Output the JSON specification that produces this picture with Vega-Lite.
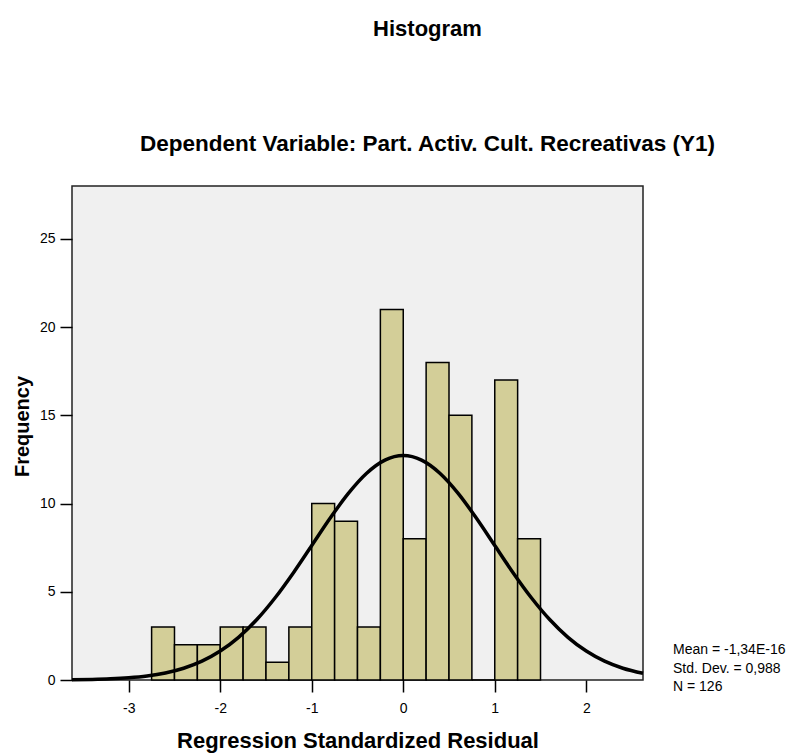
{
  "$schema": "https://vega.github.io/schema/vega-lite/v6.json",
  "autosize": "none",
  "width": 571,
  "height": 494,
  "padding": {"left": 72, "top": 186, "right": 152, "bottom": 73},
  "background": "white",
  "config": {
    "view": {"fill": "#f0f0f0", "stroke": "#222222", "strokeWidth": 1.5},
    "font": "Liberation Sans, Arial, sans-serif"
  },
  "title": {
    "text": "Histogram",
    "subtitle": "Dependent Variable: Part. Activ. Cult. Recreativas (Y1)",
    "anchor": "middle",
    "frame": "group",
    "dx": 70,
    "offset": 30,
    "fontSize": 22,
    "fontWeight": "bold",
    "font": "Liberation Sans, Arial, sans-serif",
    "color": "#000000",
    "subtitleFontSize": 22.5,
    "subtitleFontWeight": "bold",
    "subtitleFont": "Liberation Sans, Arial, sans-serif",
    "subtitleColor": "#000000",
    "subtitlePadding": 92
  },
  "datasets": {
    "bins": [
      {"start": -2.75, "end": -2.5, "count": 3},
      {"start": -2.5, "end": -2.25, "count": 2},
      {"start": -2.25, "end": -2.0, "count": 2},
      {"start": -2.0, "end": -1.75, "count": 3},
      {"start": -1.75, "end": -1.5, "count": 3},
      {"start": -1.5, "end": -1.25, "count": 1},
      {"start": -1.25, "end": -1.0, "count": 3},
      {"start": -1.0, "end": -0.75, "count": 10},
      {"start": -0.75, "end": -0.5, "count": 9},
      {"start": -0.5, "end": -0.25, "count": 3},
      {"start": -0.25, "end": 0.0, "count": 21},
      {"start": 0.0, "end": 0.25, "count": 8},
      {"start": 0.25, "end": 0.5, "count": 18},
      {"start": 0.5, "end": 0.75, "count": 15},
      {"start": 0.75, "end": 1.0, "count": 0},
      {"start": 1.0, "end": 1.25, "count": 17},
      {"start": 1.25, "end": 1.5, "count": 8}
    ],
    "curve": [
      {"x": -3.62, "y": 0.016},
      {"x": -3.4, "y": 0.034},
      {"x": -3.2, "y": 0.067},
      {"x": -3.0, "y": 0.127},
      {"x": -2.8, "y": 0.229},
      {"x": -2.6, "y": 0.399},
      {"x": -2.4, "y": 0.666},
      {"x": -2.2, "y": 1.066},
      {"x": -2.0, "y": 1.64},
      {"x": -1.8, "y": 2.419},
      {"x": -1.6, "y": 3.428},
      {"x": -1.4, "y": 4.662},
      {"x": -1.2, "y": 6.084},
      {"x": -1.0, "y": 7.622},
      {"x": -0.8, "y": 9.165},
      {"x": -0.6, "y": 10.578},
      {"x": -0.4, "y": 11.719},
      {"x": -0.2, "y": 12.462},
      {"x": 0.0, "y": 12.72},
      {"x": 0.2, "y": 12.462},
      {"x": 0.4, "y": 11.719},
      {"x": 0.6, "y": 10.578},
      {"x": 0.8, "y": 9.165},
      {"x": 1.0, "y": 7.622},
      {"x": 1.2, "y": 6.084},
      {"x": 1.4, "y": 4.662},
      {"x": 1.6, "y": 3.428},
      {"x": 1.8, "y": 2.419},
      {"x": 2.0, "y": 1.64},
      {"x": 2.2, "y": 1.066},
      {"x": 2.4, "y": 0.666},
      {"x": 2.62, "y": 0.378}
    ],
    "stats": [
      {"label": "Mean = -1,34E-16\nStd. Dev. = 0,988\nN = 126"}
    ]
  },
  "layer": [
    {
      "data": {"name": "bins"},
      "mark": {"type": "rect", "fill": "#d3ce98", "stroke": "#000000", "strokeWidth": 1.5},
      "encoding": {
        "x": {
          "field": "start",
          "type": "quantitative",
          "scale": {"domain": [-3.62, 2.62], "nice": false, "zero": false},
          "axis": {
            "title": "Regression Standardized Residual",
            "values": [-3, -2, -1, 0, 1, 2],
            "labelExpr": "'' + datum.value",
            "grid": false,
            "domain": false,
            "tickSize": 12,
            "tickWidth": 1.5,
            "tickColor": "#000000",
            "labelFontSize": 14,
            "labelColor": "#000000",
            "labelPadding": 9,
            "titleFontSize": 22,
            "titleFontWeight": "bold",
            "titleColor": "#000000",
            "titleY": 50
          }
        },
        "x2": {"field": "end"},
        "y": {
          "field": "count",
          "type": "quantitative",
          "scale": {"domain": [0, 28], "nice": false},
          "axis": {
            "title": "Frequency",
            "values": [0, 5, 10, 15, 20, 25],
            "grid": false,
            "domain": false,
            "tickSize": 12,
            "tickWidth": 1.5,
            "tickColor": "#000000",
            "labelFontSize": 14,
            "labelColor": "#000000",
            "labelPadding": 5,
            "titleFontSize": 20,
            "titleFontWeight": "bold",
            "titleColor": "#000000",
            "titlePadding": 7,
            "titleY": 240
          }
        },
        "y2": {"datum": 0}
      }
    },
    {
      "data": {"name": "curve"},
      "mark": {"type": "line", "color": "#000000", "strokeWidth": 3.5, "interpolate": "monotone"},
      "encoding": {
        "x": {"field": "x", "type": "quantitative"},
        "y": {"field": "y", "type": "quantitative"}
      }
    },
    {
      "data": {"name": "stats"},
      "mark": {
        "type": "text",
        "align": "left",
        "baseline": "middle",
        "lineBreak": "\n",
        "lineHeight": 18.5,
        "fontSize": 14,
        "dx": 30,
        "dy": -30,
        "color": "#000000",
        "clip": false
      },
      "encoding": {
        "x": {"datum": 2.62},
        "y": {"datum": 0},
        "text": {"field": "label"}
      }
    }
  ]
}
